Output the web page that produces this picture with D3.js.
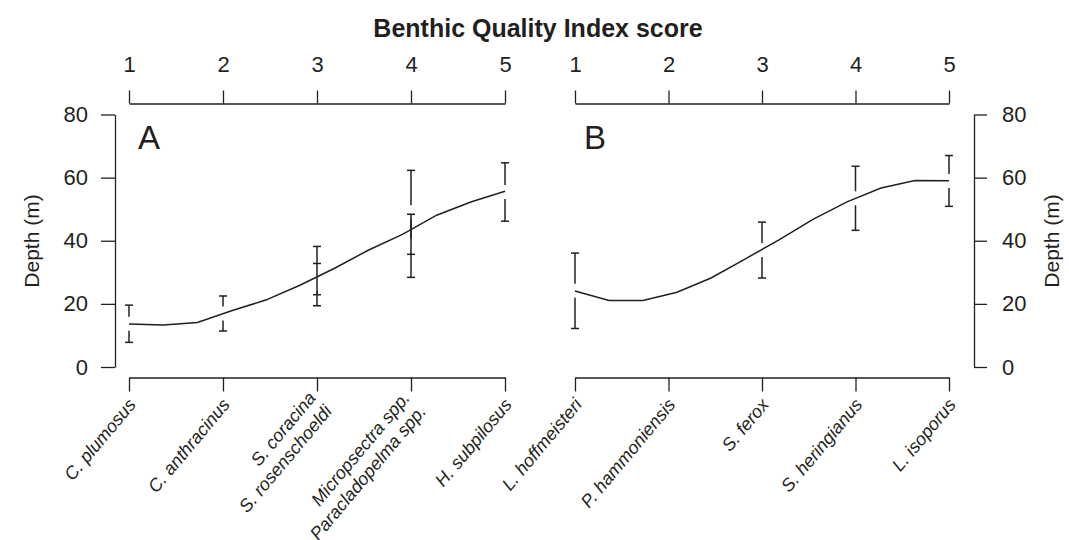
<!DOCTYPE html>
<html>
<head>
<meta charset="utf-8">
<script src="https://cdn.jsdelivr.net/npm/d3@7"></script>
<style>
  body { margin: 0; background: #fff; }
  text { font-family: "Liberation Sans", Arial, sans-serif; fill: #231f20; }
</style>
</head>
<body>
<div id="chart"></div>
<script>
// data
var scoreTicks = [1, 2, 3, 4, 5];
var depthTicks = [0, 20, 40, 60, 80];

var taxaA = [["C. plumosus"], ["C. anthracinus"], ["S. coracina", "S. rosenschoeldi"],
             ["Micropsectra spp.", "Paracladopelma spp."], ["H. subpilosus"]];
var taxaB = [["L. hoffmeisteri"], ["P. hammoniensis"], ["S. ferox"], ["S. heringianus"], ["L. isoporus"]];

// fitted curves (score -> depth)
var curveScore = [1, 1.364, 1.727, 2.091, 2.455, 2.818, 3.182, 3.545, 3.909, 4.273, 4.636, 5];
var curveA = [13.6, 13.3, 14.1, 17.8, 21.2, 25.9, 31.2, 37.0, 42.0, 48.1, 52.3, 55.7];
var curveB = [24.1, 21.1, 21.1, 23.7, 28.2, 34.2, 40.3, 46.8, 52.3, 56.7, 59.1, 59.0];

// error bars (depth range per taxon)
var errA_score = [1, 2, 3, 3, 4, 4, 5];
var errA_lo    = [7.8, 11.4, 22.9, 19.4, 35.7, 28.4, 46.2];
var errA_hi    = [19.6, 22.5, 38.2, 32.8, 62.3, 48.4, 64.7];

var errB_score = [1, 3, 4, 5];
var errB_lo    = [12.2, 28.2, 43.3, 50.9];
var errB_hi    = [36.1, 45.9, 63.6, 67.0];

var ink = "#231f20";

var svg = d3.select("#chart")
  .append("svg")
    .attr("width", 1069)
    .attr("height", 540);

var xA = d3.scaleLinear().domain([1, 5]).range([129, 505]);
var xB = d3.scaleLinear().domain([1, 5]).range([575, 949]);
var y = d3.scaleLinear().domain([0, 80]).range([367, 114.5]);

function styleAxis(g) {
  g.selectAll("path, line").attr("stroke", ink).attr("stroke-width", 1.3);
  g.selectAll("text").attr("fill", ink).attr("font-size", 22)
    .attr("font-family", "'Liberation Sans', Arial, sans-serif");
}

// title
svg.append("text")
  .attr("x", 538).attr("y", 37)
  .attr("text-anchor", "middle")
  .attr("font-size", 25).attr("font-weight", "bold")
  .text("Benthic Quality Index score");

function panel(x, letter, taxa, scores, values, eScore, eLo, eHi) {
  svg.append("g")
    .attr("transform", "translate(0,103.5)")
    .call(d3.axisTop(x).tickValues(scoreTicks).tickFormat(d3.format("d"))
      .tickSize(13).tickSizeOuter(0).tickPadding(19))
    .call(styleAxis);

  svg.append("g")
    .attr("transform", "translate(0,377.5)")
    .call(d3.axisBottom(x).tickValues(scoreTicks).tickSize(14).tickSizeOuter(0).tickFormat(""))
    .call(styleAxis);

  // rotated taxon labels
  taxa.forEach(function(lines, i) {
    var t = svg.append("text")
      .attr("transform", "translate(" + (x(scoreTicks[i]) + 3) + ",401) rotate(-50)")
      .attr("text-anchor", "end")
      .attr("font-size", 18)
      .attr("font-style", "italic");
    lines.forEach(function(s, j) {
      t.append("tspan")
        .attr("x", 0)
        .attr("y", (j - (lines.length - 1) / 2) * 21)
        .attr("dy", "0.35em")
        .text(s);
    });
  });

  svg.append("text")
    .attr("x", x(1) + 9).attr("y", 149)
    .attr("font-size", 33)
    .text(letter);

  // error bars with a gap at the middle
  var gap = 7, cap = 4;
  eScore.forEach(function(s, i) {
    var px = x(s), top = y(eHi[i]), bot = y(eLo[i]), mid = (top + bot) / 2;
    var g = svg.append("g").attr("stroke", ink).attr("stroke-width", 1.5);
    g.append("line").attr("x1", px).attr("x2", px).attr("y1", top).attr("y2", mid - gap);
    g.append("line").attr("x1", px).attr("x2", px).attr("y1", mid + gap).attr("y2", bot);
    g.append("line").attr("x1", px - cap).attr("x2", px + cap).attr("y1", top).attr("y2", top);
    g.append("line").attr("x1", px - cap).attr("x2", px + cap).attr("y1", bot).attr("y2", bot);
  });

  var line = d3.line()
    .x(function(d, i) { return x(scores[i]); })
    .y(function(d) { return y(d); });

  svg.append("path")
    .datum(values)
    .attr("fill", "none")
    .attr("stroke", ink)
    .attr("stroke-width", 1.5)
    .attr("d", line);
}

panel(xA, "A", taxaA, curveScore, curveA, errA_score, errA_lo, errA_hi);
panel(xB, "B", taxaB, curveScore, curveB, errB_score, errB_lo, errB_hi);

// depth axes
svg.append("g")
  .attr("transform", "translate(115,0)")
  .call(d3.axisLeft(y).tickValues(depthTicks).tickSize(14).tickSizeOuter(0).tickPadding(13))
  .call(styleAxis);

svg.append("g")
  .attr("transform", "translate(974,0)")
  .call(d3.axisRight(y).tickValues(depthTicks).tickSize(13).tickSizeOuter(0).tickPadding(15))
  .call(styleAxis);

svg.append("text")
  .attr("transform", "translate(39,241) rotate(-90)")
  .attr("text-anchor", "middle")
  .attr("font-size", 21)
  .text("Depth (m)");

svg.append("text")
  .attr("transform", "translate(1059,241) rotate(-90)")
  .attr("text-anchor", "middle")
  .attr("font-size", 21)
  .text("Depth (m)");
</script>
</body>
</html>
